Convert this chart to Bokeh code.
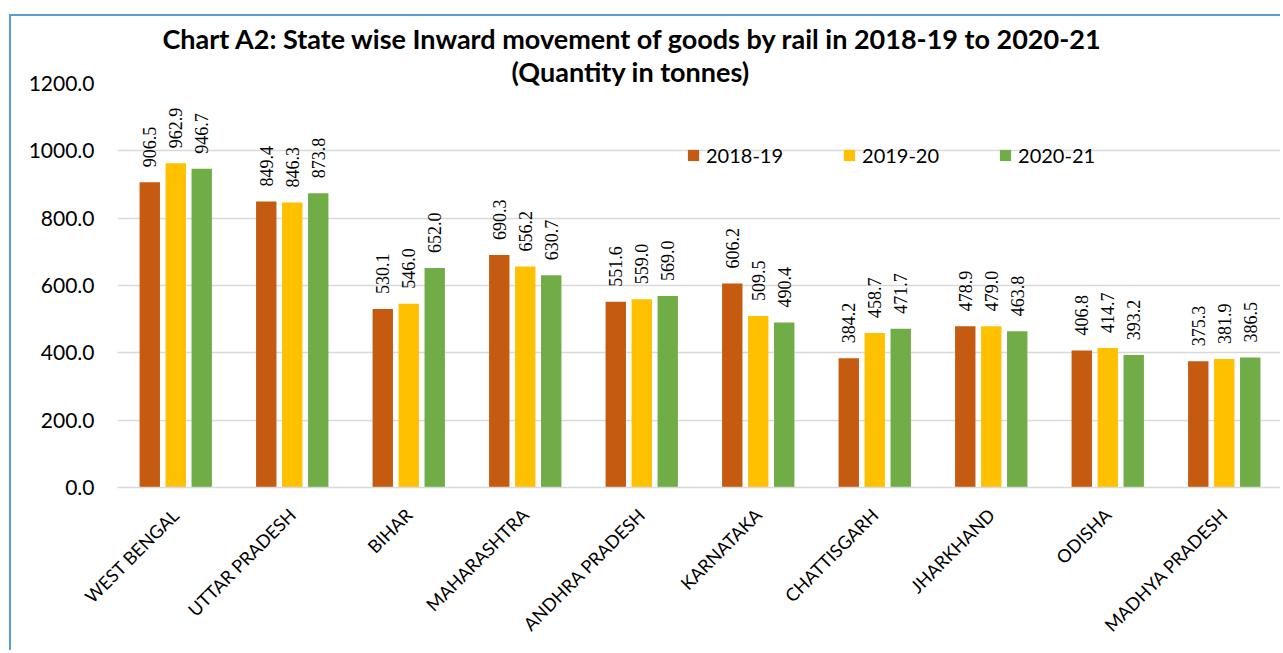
from math import pi
from bokeh.plotting import figure
from bokeh.models import (ColumnDataSource, LabelSet, Legend, LegendItem, Title,
                          NumeralTickFormatter, FactorRange, FixedTicker)
from bokeh.transform import dodge
from bokeh.embed import file_html
from bokeh.resources import INLINE

states = ["WEST BENGAL", "UTTAR PRADESH", "BIHAR", "MAHARASHTRA", "ANDHRA PRADESH",
          "KARNATAKA", "CHATTISGARH", "JHARKHAND", "ODISHA", "MADHYA PRADESH"]
y2018_19 = [906.5, 849.4, 530.1, 690.3, 551.6, 606.2, 384.2, 478.9, 406.8, 375.3]
y2019_20 = [962.9, 846.3, 546.0, 656.2, 559.0, 509.5, 458.7, 479.0, 414.7, 381.9]
y2020_21 = [946.7, 873.8, 652.0, 630.7, 569.0, 490.4, 471.7, 463.8, 393.2, 386.5]
years = ["2018-19", "2019-20", "2020-21"]
colors = ["#C55A11", "#FFC000", "#70AD47"]
y_ticks = [0, 200, 400, 600, 800, 1000, 1200]

FONT = "Lato"

src = ColumnDataSource(dict(
    state=states,
    a=y2018_19, b=y2019_20, c=y2020_21,
    la=[f"{v:.1f}" for v in y2018_19],
    lb=[f"{v:.1f}" for v in y2019_20],
    lc=[f"{v:.1f}" for v in y2020_21],
))

p = figure(x_range=FactorRange(factors=states), y_range=(0, 1200),
           width=1271, height=636, output_backend="svg", toolbar_location=None,
           min_border_left=106, min_border_right=0, min_border_top=67,
           min_border_bottom=165, title=None)
# light blue chart border (left and top edges)
p.margin = (14, 0, 0, 9)
p.styles = {"border-left": "2px solid #5B9BD5", "border-top": "2px solid #5B9BD5"}
p.outline_line_color = None
p.background_fill_color = "white"
p.border_fill_color = "white"

offsets = [-0.223, 0.0, 0.223]
fields = ["a", "b", "c"]
lfields = ["la", "lb", "lc"]
renderers = []
for off, f, lf, col in zip(offsets, fields, lfields, colors):
    r = p.vbar(x=dodge("state", off, range=p.x_range), top=f, width=0.175,
               source=src, fill_color=col, line_color=None)
    renderers.append(r)
    labels = LabelSet(x=dodge("state", off, range=p.x_range), y=f, text=lf,
                      source=src, angle=pi / 2, text_align="left",
                      text_baseline="middle", y_offset=15,
                      text_font=FONT, text_font_size="18px", text_color="#000000")
    p.add_layout(labels)

legend = Legend(items=[LegendItem(label=y, renderers=[r]) for y, r in zip(years, renderers)],
                orientation="horizontal", location=(569, 320),
                padding=0, margin=0, spacing=59, glyph_width=14, glyph_height=14,
                label_height=20, label_standoff=6,
                label_text_font=FONT, label_text_font_size="20px",
                label_text_color="#000000",
                border_line_color=None, background_fill_alpha=0)
p.add_layout(legend, "center")

sub = Title(text="(Quantity in tonnes)", align="left", offset=394,
            text_font=FONT, text_font_size="27px", text_font_style="bold",
            text_color="#000000", standoff=-8)
main = Title(text="Chart A2: State wise Inward movement of goods by rail in 2018-19 to 2020-21",
             align="left", offset=45,
             text_font=FONT, text_font_size="27px", text_font_style="bold",
             text_color="#000000", standoff=3)
p.add_layout(sub, "above")
p.add_layout(main, "above")

p.yaxis.ticker = FixedTicker(ticks=y_ticks)
p.yaxis.formatter = NumeralTickFormatter(format="0.0")
p.yaxis.axis_line_color = None
p.yaxis.major_tick_line_color = None
p.yaxis.minor_tick_line_color = None
p.yaxis.major_label_standoff = 17
p.yaxis.major_label_text_font = FONT
p.yaxis.major_label_text_font_size = "21px"
p.yaxis.major_label_text_color = "#000000"

p.xaxis.axis_line_color = "#D9D9D9"
p.xaxis.axis_line_width = 1.5
p.xaxis.major_tick_line_color = None
p.xaxis.minor_tick_line_color = None
p.xaxis.major_label_orientation = pi / 4
p.xaxis.major_label_standoff = 18
p.xaxis.major_label_text_font = FONT
p.xaxis.major_label_text_font_size = "18px"
p.xaxis.major_label_text_color = "#000000"

p.xgrid.grid_line_color = None
p.ygrid.grid_line_color = "#D9D9D9"
p.ygrid.grid_line_width = 1.5
p.ygrid.ticker = FixedTicker(ticks=y_ticks)

open("out.html", "w").write(file_html(p, INLINE))
